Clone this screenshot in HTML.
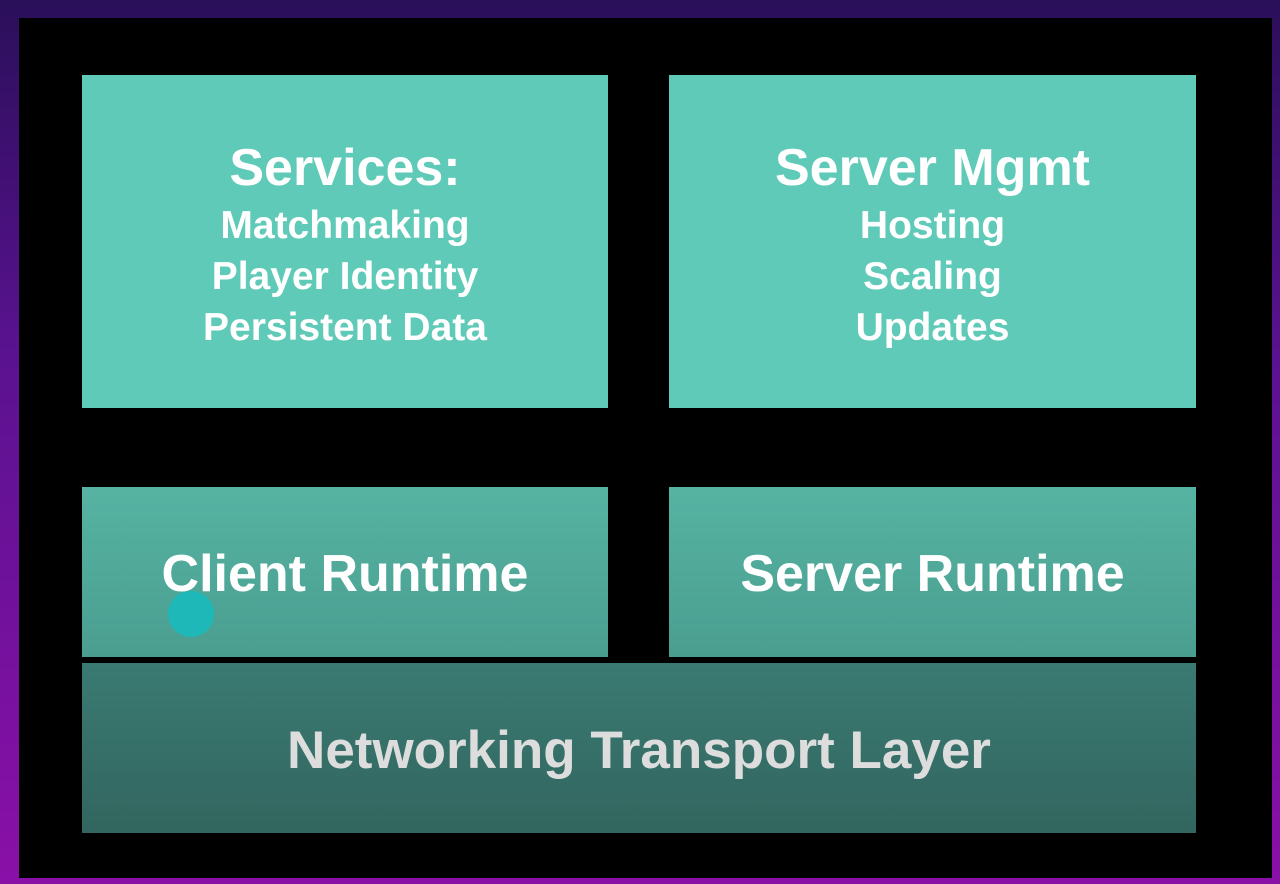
<!DOCTYPE html>
<html><head><style>
html,body{margin:0;padding:0;width:1280px;height:884px;overflow:hidden;}
body{background:linear-gradient(180deg,#2a0f5a 0%,#5a1290 40%,#8a10a8 100%);position:relative;font-family:"Liberation Sans",sans-serif;}
.panel{position:absolute;left:19px;top:18px;width:1253px;height:860px;background:#000;}
.b{position:absolute;display:flex;flex-direction:column;align-items:center;justify-content:center;color:#fff;font-weight:bold;text-align:center;}
.t{font-size:52px;line-height:58px;}
.s{font-size:39px;line-height:51px;}
.top{justify-content:flex-start;padding-top:64px;box-sizing:border-box;}
</style></head><body>
<div class="panel"></div>
<div class="b top" style="left:82px;top:75px;width:526px;height:333px;background:#5fcab8;"><div class="t" style="margin-bottom:3px">Services:</div><div class="s">Matchmaking</div><div class="s">Player Identity</div><div class="s">Persistent Data</div></div>
<div class="b top" style="left:669px;top:75px;width:527px;height:333px;background:#5fcab8;"><div class="t" style="margin-bottom:3px">Server Mgmt</div><div class="s">Hosting</div><div class="s">Scaling</div><div class="s">Updates</div></div>
<div class="b" style="left:82px;top:487px;width:526px;height:170px;background:linear-gradient(#56b3a2,#4a9e90);"><div class="t" style="margin-top:3px">Client Runtime</div></div>
<div class="b" style="left:669px;top:487px;width:527px;height:170px;background:linear-gradient(#56b3a2,#4a9e90);"><div class="t" style="margin-top:3px">Server Runtime</div></div>
<div style="position:absolute;left:168px;top:591px;width:46px;height:46px;border-radius:50%;background:#1fb8b8;"></div>
<div class="b" style="left:82px;top:663px;width:1114px;height:170px;background:linear-gradient(#3a7a72,#32665f);color:#ddd;"><div class="t" style="font-size:53px;margin-top:5px">Networking Transport Layer</div></div>
</body></html>
